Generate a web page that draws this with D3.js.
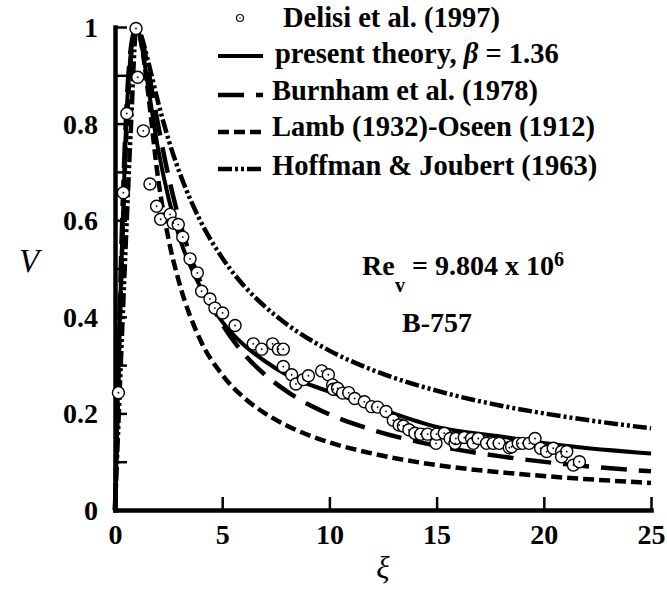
<!DOCTYPE html>
<html>
<head>
<meta charset="utf-8">
<script src="https://cdn.jsdelivr.net/npm/d3@7"></script>
<style>
  body { margin: 0; background: #fff; }
</style>
</head>
<body>
<svg id="chart" width="667" height="590" font-family="Liberation Serif"></svg>
<script>
// radial positions shared by the model curves
const xi = [0, 0.25, 0.5, 0.75, 1, 1.25, 1.5, 2, 2.5, 3, 4, 5, 6, 7, 8, 10, 12, 15, 18, 21, 25];

const presentTheory = [0, 0.44, 0.78, 0.95, 1.0, 0.96, 0.89, 0.75, 0.645, 0.565, 0.46, 0.39, 0.342, 0.308, 0.28, 0.245, 0.215, 0.172, 0.152, 0.133, 0.117];
const burnham = [0, 0.47, 0.8, 0.96, 1.0, 0.976, 0.923, 0.8, 0.69, 0.6, 0.47, 0.385, 0.324, 0.28, 0.246, 0.198, 0.166, 0.133, 0.111, 0.095, 0.08];
const lambOseen = [0, 0.42, 0.75, 0.94, 1.0, 0.96, 0.88, 0.69, 0.56, 0.47, 0.35, 0.28, 0.233, 0.2, 0.175, 0.14, 0.117, 0.093, 0.078, 0.067, 0.056];
const hoffman = [0, 0.28, 0.55, 0.8, 1.0, 0.978, 0.937, 0.846, 0.766, 0.70, 0.597, 0.522, 0.465, 0.421, 0.385, 0.33, 0.29, 0.247, 0.216, 0.193, 0.169];

// Delisi et al. (1997) measurements [xi, V]
const delisi = [
  [0.16,0.243],[0.39,0.657],[0.55,0.821],[0.98,0.997],[1.06,0.896],[1.32,0.785],[1.63,0.675],
  [1.94,0.629],[2.13,0.602],[2.57,0.612],[2.72,0.594],[2.95,0.591],[3.16,0.565],[3.5,0.52],
  [3.84,0.491],[4.04,0.453],[4.43,0.437],[4.66,0.418],[5.02,0.408],[5.6,0.382],[6.45,0.344],
  [6.84,0.333],[7.35,0.344],[7.62,0.333],[7.85,0.333],[7.85,0.297],[8.24,0.28],[8.44,0.261],
  [8.79,0.27],[9.02,0.278],[9.64,0.288],[9.95,0.28],[10.15,0.259],[10.18,0.25],[10.38,0.252],
  [10.62,0.242],[10.9,0.243],[11.18,0.231],[11.63,0.224],[11.97,0.214],[12.25,0.213],[12.64,0.204],
  [12.98,0.186],[13.25,0.176],[13.45,0.174],[13.71,0.166],[13.99,0.159],[14.26,0.157],[14.58,0.157],
  [14.97,0.138],[15.0,0.157],[15.36,0.159],[15.63,0.148],[15.86,0.138],[15.9,0.148],[16.29,0.15],
  [16.63,0.148],[16.71,0.138],[16.94,0.148],[17.33,0.138],[17.64,0.138],[17.92,0.138],[18.39,0.129],
  [18.5,0.131],[18.81,0.138],[19.01,0.138],[19.32,0.138],[19.59,0.148],[19.85,0.128],[20.13,0.121],
  [20.44,0.128],[20.83,0.121],[20.83,0.11],[21.07,0.121],[21.38,0.093],[21.66,0.1]
];

const xTicks = [0, 5, 10, 15, 20, 25];
const yTicks = [0, 0.1, 0.2, 0.3, 0.4, 0.5, 0.6, 0.7, 0.8, 0.9, 1];
const yTickLabels = {0: "0", 0.2: "0.2", 0.4: "0.4", 0.6: "0.6", 0.8: "0.8", 1: "1"};

const FONT = "Liberation Serif";

const margin = {top: 27, right: 16, bottom: 80, left: 115};
const width = 667 - margin.left - margin.right;
const height = 590 - margin.top - margin.bottom;

const root = d3.select("#chart");
const svg = root.append("g")
  .attr("transform", `translate(${margin.left},${margin.top})`);

const x = d3.scaleLinear().domain([0, 25]).range([0, width]);
const y = d3.scaleLinear().domain([0, 1]).range([height, 0]);

// axes with inward ticks
const xAxis = svg.append("g")
  .attr("transform", `translate(0,${height})`)
  .call(d3.axisBottom(x).tickValues(xTicks).tickSizeInner(-13).tickSizeOuter(0).tickPadding(14).tickFormat(d3.format("d")));
const yAxis = svg.append("g")
  .call(d3.axisLeft(y).tickValues(yTicks).tickSizeInner(-12).tickSizeOuter(0).tickPadding(17)
    .tickFormat(d => yTickLabels[d] !== undefined ? yTickLabels[d] : ""));

[xAxis, yAxis].forEach(g => {
  g.attr("font-family", FONT).attr("font-size", 28).attr("font-weight", "bold");
  g.select(".domain").attr("stroke", "#000").attr("stroke-width", 4.5).attr("stroke-linecap", "square");
  g.selectAll(".tick line").attr("stroke", "#000").attr("stroke-width", 2.5);
  g.selectAll(".tick text").attr("fill", "#000");
});
xAxis.selectAll(".tick text").attr("dy", "0.71em");
yAxis.selectAll(".tick text").attr("dy", "0.34em");

// curves
const styles = [
  {name: "present theory", data: presentTheory, dash: null, w: 4},
  {name: "Burnham", data: burnham, dash: "26,12", w: 4.5},
  {name: "Lamb", data: lambOseen, dash: "11,5", w: 4.5},
  {name: "Hoffman", data: hoffman, dash: "14,3,3,3,3,3", w: 4.5}
];

const line = d3.line()
  .x((d, i) => x(xi[i]))
  .y(d => y(d))
  .curve(d3.curveMonotoneX);

styles.forEach(s => {
  svg.append("path")
    .datum(s.data)
    .attr("d", line)
    .attr("fill", "none")
    .attr("stroke", "#000")
    .attr("stroke-width", s.w)
    .attr("stroke-dasharray", s.dash);
});

// measured points
const pts = svg.append("g");
pts.selectAll("circle.pt")
  .data(delisi)
  .enter()
  .append("circle")
  .attr("class", "pt")
  .attr("cx", d => x(d[0]))
  .attr("cy", d => y(d[1]))
  .attr("r", 6)
  .attr("fill", "#fff")
  .attr("stroke", "#000")
  .attr("stroke-width", 1.4);
pts.selectAll("circle.dot")
  .data(delisi)
  .enter()
  .append("circle")
  .attr("class", "dot")
  .attr("cx", d => x(d[0]))
  .attr("cy", d => y(d[1]))
  .attr("r", 0.9)
  .attr("fill", "#000");

// axis titles
root.append("text")
  .attr("x", 383).attr("y", 578)
  .attr("text-anchor", "middle")
  .attr("font-family", FONT)
  .attr("font-size", 31)
  .attr("font-style", "italic")
  .text("ξ");
root.append("text")
  .attr("x", 29).attr("y", 272)
  .attr("text-anchor", "middle")
  .attr("font-family", FONT)
  .attr("font-size", 33)
  .attr("font-style", "italic")
  .text("V");

// legend
const legend = root.append("g");
legend.append("circle").attr("cx", 240).attr("cy", 18).attr("r", 3.5)
  .attr("fill", "#fff").attr("stroke", "#000").attr("stroke-width", 1.2);
legend.append("circle").attr("cx", 240).attr("cy", 18).attr("r", 0.8).attr("fill", "#000");

const legendRows = [
  {label: "Delisi et al. (1997)", x: 283, y: 27},
  {label: "present theory, ", x: 275, y: 63, beta: true, line: 0, ly: 56},
  {label: "Burnham et al. (1978)", x: 272, y: 100, line: 1, ly: 95},
  {label: "Lamb (1932)-Oseen (1912)", x: 272, y: 136, line: 2, ly: 132},
  {label: "Hoffman & Joubert (1963)", x: 272, y: 175, line: 3, ly: 169}
];

legendRows.forEach(r => {
  const t = legend.append("text")
    .attr("x", r.x).attr("y", r.y)
    .attr("font-family", FONT)
    .attr("font-size", 28.5)
    .attr("font-weight", "bold")
    .text(r.label);
  if (r.beta) {
    t.append("tspan").attr("font-style", "italic").text("β");
    t.append("tspan").text(" = 1.36");
  }
  if (r.line !== undefined) {
    const s = styles[r.line];
    legend.append("line")
      .attr("x1", 218).attr("x2", 263)
      .attr("y1", r.ly).attr("y2", r.ly)
      .attr("stroke", "#000")
      .attr("stroke-width", s.w)
      .attr("stroke-dasharray", s.dash);
  }
});

// annotations
const re = root.append("text").attr("x", 362).attr("y", 275)
  .attr("font-family", FONT).attr("font-size", 28).attr("font-weight", "bold");
re.append("tspan").text("Re");
re.append("tspan").attr("x", 395).attr("y", 292).attr("font-size", 20).text("v");
re.append("tspan").attr("x", 412).attr("y", 275).text("= 9.804 x 10");
re.append("tspan").attr("dy", -9).attr("font-size", 20).text("6");

root.append("text").attr("x", 402).attr("y", 332)
  .attr("font-family", FONT).attr("font-size", 28).attr("font-weight", "bold")
  .text("B-757");
</script>
</body>
</html>
